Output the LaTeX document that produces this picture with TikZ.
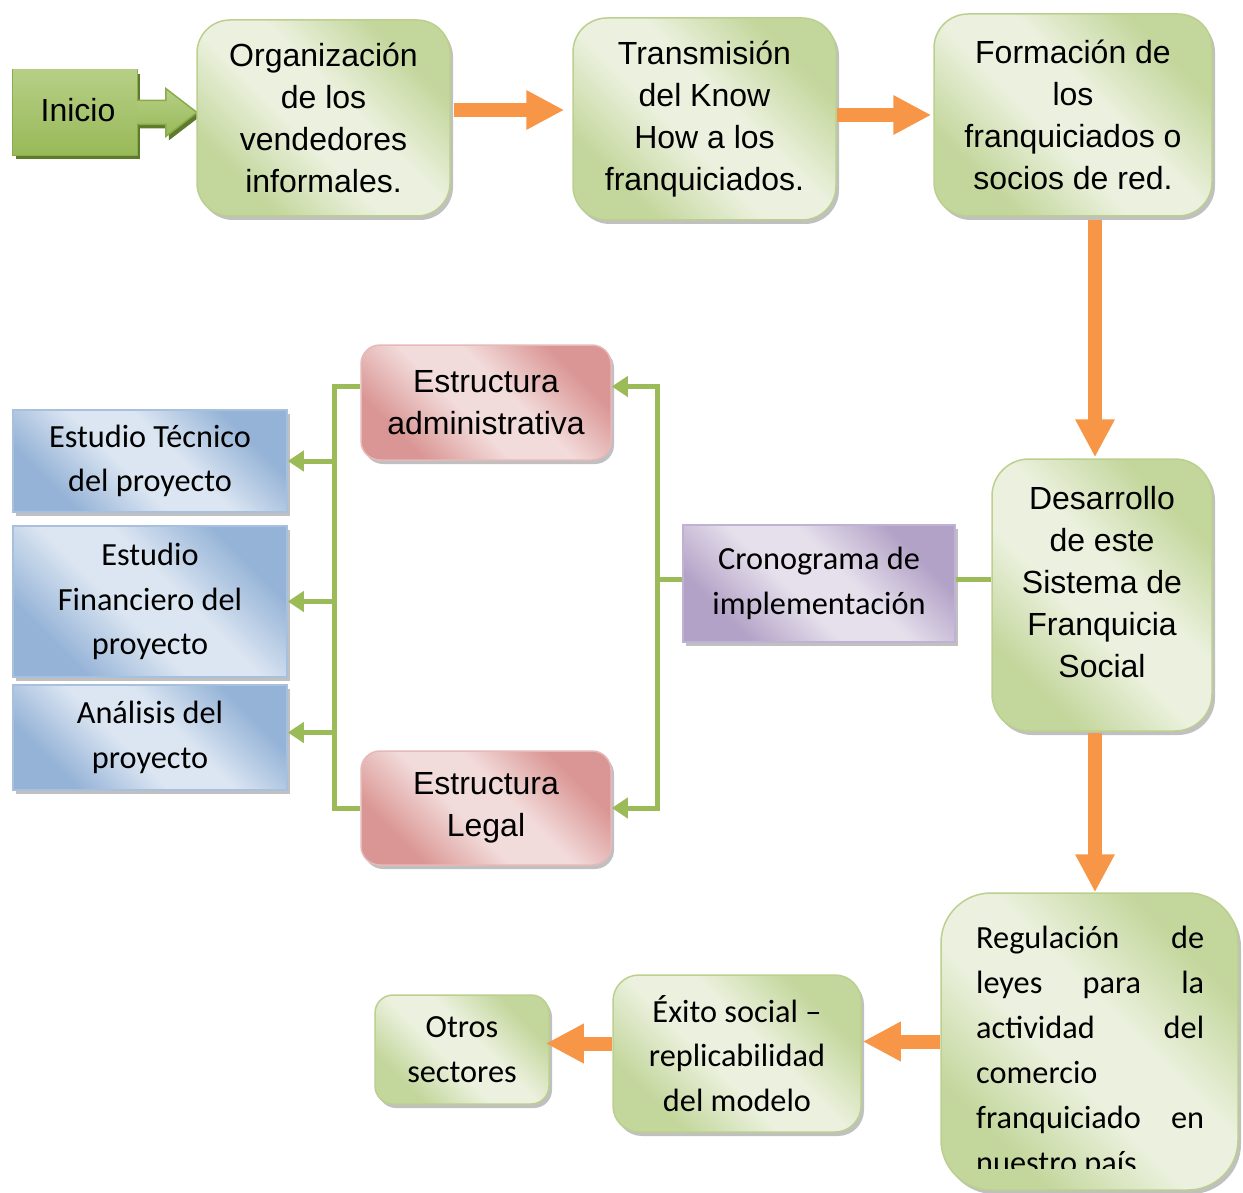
\documentclass[tikz,border=0pt]{standalone}
\usepackage{fontspec}
\setmainfont{Liberation Sans}
\newfontfamily\calfont[Ligatures=TeX]{Carlito}
\usetikzlibrary{arrows.meta,shadows,calc}

\definecolor{gL}{HTML}{EBF1DE}
\definecolor{gD}{HTML}{C3D69B}
\definecolor{gB}{HTML}{BBD08F}
\definecolor{rL}{HTML}{F2DCDB}
\definecolor{rD}{HTML}{DA9694}
\definecolor{rB}{HTML}{E6B9B8}
\definecolor{bL}{HTML}{DCE6F2}
\definecolor{bD}{HTML}{95B3D7}
\definecolor{bB}{HTML}{A7C0DE}
\definecolor{pL}{HTML}{E6E0EC}
\definecolor{pD}{HTML}{B3A2C7}
\definecolor{pB}{HTML}{C0B2D2}
\definecolor{orng}{HTML}{F79646}
\definecolor{gline}{HTML}{9BBB59}
\definecolor{iniT}{HTML}{B6CF86}
\definecolor{iniB}{HTML}{98B958}
\definecolor{iniE}{HTML}{8AAB4C}
\definecolor{iniS}{HTML}{5E7A2C}

\pgfdeclarehorizontalshading{grsh}{100bp}{color(0bp)=(gD); color(27bp)=(gD); color(44bp)=(gL); color(56bp)=(gL); color(73bp)=(gD); color(100bp)=(gD)}
\pgfdeclarehorizontalshading{rdsh}{100bp}{color(0bp)=(rD); color(27bp)=(rD); color(44bp)=(rL); color(56bp)=(rL); color(73bp)=(rD); color(100bp)=(rD)}
\pgfdeclarehorizontalshading{blsh}{100bp}{color(0bp)=(bD); color(27bp)=(bD); color(44bp)=(bL); color(56bp)=(bL); color(73bp)=(bD); color(100bp)=(bD)}
\pgfdeclarehorizontalshading{ppsh}{100bp}{color(0bp)=(pD); color(27bp)=(pD); color(44bp)=(pL); color(56bp)=(pL); color(73bp)=(pD); color(100bp)=(pD)}

\tikzset{
  shad/.style={drop shadow={shadow xshift=3pt,shadow yshift=-4pt,opacity=.45,fill=black!55}},
  inishad/.style={drop shadow={shadow xshift=3pt,shadow yshift=-4pt,opacity=1,fill=iniS}},
  box/.style={shad,line width=1.5pt,align=center,inner sep=0pt},
  arialtxt/.style={font=\fontsize{32}{42}\selectfont},
  caltxt/.style={font=\calfont\fontsize{32.3}{44.5}\selectfont},
  gbox/.style={box,draw=gB,shading=grsh,shading angle=45,arialtxt},
  gcbox/.style={box,draw=gB,shading=grsh,shading angle=45,caltxt},
  rbox/.style={box,draw=rB,shading=rdsh,shading angle=45,arialtxt},
  bbox/.style={box,draw=bB,shading=blsh,shading angle=45,caltxt},
  pbox/.style={box,draw=pB,shading=ppsh,shading angle=45,caltxt},
  oarrow/.style={draw=orng,line width=14pt,-{Triangle[width=37pt,length=38pt]}},
  gl/.style={draw=gline,line width=5pt},
  garrow/.style={gl,-{Triangle[width=20pt,length=16pt]}},
}

\begin{document}
\begin{tikzpicture}[x=1pt,y=-1pt]
\useasboundingbox (0,0) rectangle (1243,1193);

% Inicio
\node[inishad,draw=iniE,line width=1.5pt,top color=iniT,bottom color=iniB,minimum width=124pt,minimum height=85pt,inner sep=0pt,arialtxt] (ini) at (75,112.5) {};
\fill[inishad,top color=iniT,bottom color=iniB] ($(ini.east)+(-1,-12)$) -- ($(ini.east)+(28,-12)$) -- ($(ini.east)+(28,-24)$) -- (ini.east -| 197,0) -- ($(ini.east)+(28,24)$) -- ($(ini.east)+(28,12)$) -- ($(ini.east)+(-1,12)$) -- cycle;
\fill[top color=iniT,bottom color=iniB] ($(ini.north west)+(0.75,0.75)$) rectangle ($(ini.south east)+(-0.75,-0.75)$);
\draw[iniE,line width=1.5pt,line join=miter] ($(ini.east)+(0,-12)$) -- ($(ini.east)+(28,-12)$) -- ($(ini.east)+(28,-24)$) -- (ini.east -| 197,0) -- ($(ini.east)+(28,24)$) -- ($(ini.east)+(28,12)$) -- ($(ini.east)+(0,12)$);
\node[arialtxt] (initxt) at ($(ini.center)+(3,-2)$) {Inicio};

% top row
\node[gbox,rounded corners=33pt,minimum width=253pt,minimum height=196pt] (org) at (323.5,118) {Organización\\de los\\vendedores\\informales.};
\node[gbox,rounded corners=34pt,minimum width=263pt,minimum height=202pt] (trans) at (704.5,119) {Transmisión\\del Know\\How a los\\franquiciados.};
\node[gbox,rounded corners=34pt,minimum width=278pt,minimum height=202pt] (form) at (1073,115) {Formación de\\los\\franquiciados o\\socios de red.};

% Desarrollo
\node[gbox,rounded corners=37pt,minimum width=220pt,minimum height=272pt] (des) at (1102,595) {};
\node[arialtxt,align=center] (destxt) at ($(des.center)+(0,-12.5)$) {Desarrollo\\de este\\Sistema de\\Franquicia\\Social};

% Regulacion
\node[gcbox,rounded corners=50pt,minimum width=297pt,minimum height=297pt] (reg) at (1089.5,1041.5) {};
\begin{scope}
\clip (941,893) rectangle (1243,1168);
\node[font=\calfont\fontsize{32.3}{45}\selectfont,align=left,anchor=north west,inner sep=0pt] (regtxt) at (976,926) {%
\makebox[228pt][s]{Regulación de}\\
\makebox[228pt][s]{leyes para la}\\
\makebox[228pt][s]{actividad del}\\
\makebox[228pt][l]{comercio}\\
\makebox[228pt][s]{franquiciado en}\\
\makebox[228pt][l]{nuestro país.}};
\end{scope}

% bottom
\node[gcbox,rounded corners=26pt,minimum width=248pt,minimum height=157pt] (exi) at (737,1053.5) {Éxito social –\\replicabilidad\\del modelo};
\node[gcbox,rounded corners=18pt,minimum width=174pt,minimum height=109pt] (otr) at (462,1049.5) {Otros\\sectores};

% middle
\node[pbox,minimum width=272pt,minimum height=117pt] (cron) at (819,583.5) {Cronograma de\\implementación};
\node[rbox,rounded corners=19pt,minimum width=250pt,minimum height=115pt] (adm) at (486,402.5) {Estructura\\administrativa};
\node[rbox,rounded corners=19pt,minimum width=250pt,minimum height=114pt] (leg) at (486,808) {Estructura\\Legal};
\node[bbox,minimum width=274pt,minimum height=102pt] (tec) at (150,461) {Estudio Técnico\\del proyecto};
\node[bbox,minimum width=274pt,minimum height=151pt] (fin) at (150,601.5) {Estudio\\Financiero del\\proyecto};
\node[bbox,minimum width=274pt,minimum height=105pt] (ana) at (150,737.5) {Análisis del\\proyecto};

% orange arrows
\draw[oarrow,shorten <=3pt,shorten >=8pt] ([yshift=8pt]org.east) -- ([yshift=8pt]org.east -| trans.west);
\draw[oarrow,shorten >=2pt] ([yshift=4pt]trans.east) -- ([yshift=4pt]trans.east -| form.west);
\draw[oarrow,shorten <=3pt,shorten >=1pt] ([xshift=-7pt]des.north |- form.south) -- ([xshift=-7pt]des.north);
\draw[oarrow,shorten <=1pt] ([xshift=-7pt]des.south) -- ([xshift=-7pt]des.south |- reg.north);
\draw[oarrow,shorten >=1pt] (reg.west) -- (reg.west -| exi.east);
\draw[oarrow,shorten >=-4pt] ([yshift=10pt]exi.west) -- ([yshift=10pt]exi.west -| otr.east);

% green connectors
\coordinate (rbus) at ([xshift=-25pt,yshift=4pt]cron.west);
\coordinate (lbus) at ([xshift=-26pt,yshift=16pt]adm.west);
\draw[gl] ([yshift=4pt]cron.east) -- ([yshift=4pt]cron.east -| des.west);
\draw[garrow] ([yshift=4pt]cron.west) -- (rbus) |- ([yshift=16pt]adm.east);
\draw[garrow] ([yshift=4pt]cron.west) -- (rbus) |- (leg.east);
\draw[gl] ([yshift=16pt]adm.west) -- (lbus) |- (leg.west);
\draw[garrow] (lbus |- tec.east) -- (tec.east);
\draw[garrow] (lbus |- fin.east) -- (fin.east);
\draw[garrow] ([yshift=5pt]lbus |- ana.east) -- ([yshift=5pt]ana.east);
\end{tikzpicture}
\end{document}
